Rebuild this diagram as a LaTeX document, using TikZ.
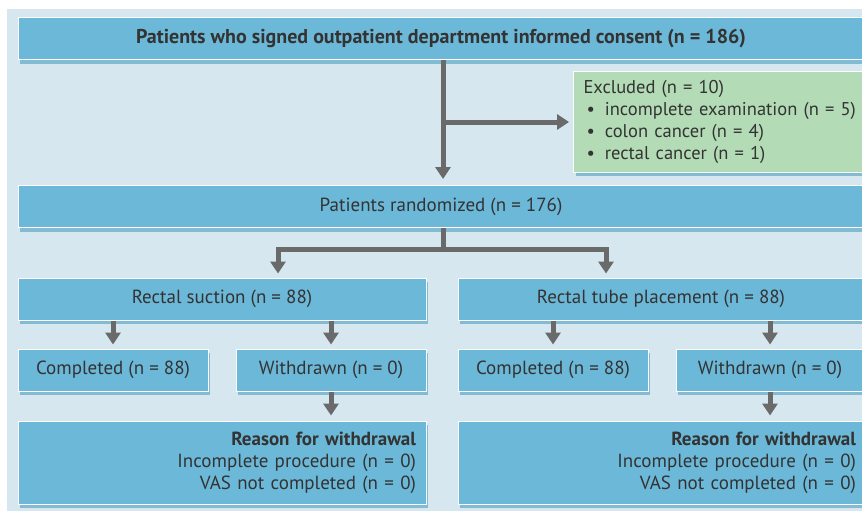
\documentclass[tikz,border=0pt]{standalone}
\usepackage{fontspec}
\setmainfont{PT Sans}
\usetikzlibrary{arrows.meta,shadows}

\definecolor{panelbg}{HTML}{D6E7F0}
\definecolor{boxblue}{HTML}{6CB8D8}
\definecolor{boxgreen}{HTML}{B3DBB5}
\definecolor{shadowblue}{HTML}{4C9CC2}
\definecolor{arrowgray}{HTML}{6A6A6A}
\definecolor{textgray}{HTML}{333333}

\tikzset{
  stage/.style={fill=boxblue, draw=white, line width=1pt, text=textgray,
    inner sep=0pt, minimum height=42pt,
    drop shadow={shadow xshift=2pt, shadow yshift=-4pt, fill=shadowblue, opacity=.6}},
  exclbox/.style={stage, fill=boxgreen, minimum width=300pt, minimum height=100pt,
    text width=280pt, align=left, anchor=west, font=\fontsize{18.5}{22}\selectfont},
  reasonbox/.style={stage, minimum height=83pt, align=right},
  flow/.style={draw=arrowgray, line width=5pt, -{Triangle[width=15pt,length=12pt]}},
  stem/.style={draw=arrowgray, line width=5pt}
}

\begin{document}
\begin{tikzpicture}[x=1pt, y=-1pt, font=\fontsize{19}{22}\selectfont]
	  \useasboundingbox (0,0) rectangle (862,511);
	  \clip (0,0) rectangle (862,511);
	  \fill [ panelbg ] (7,9) rectangle (872,515);

	  % screening
	  \node [ stage, minimum width=846pt, font=\fontsize{20}{22}\selectfont\bfseries ] (consent) at (441,39)
	    {Patients who signed outpatient department informed consent (n = 186)};
	  \node [ exclbox ] (excl) at (573,122)
	    {Excluded (n = 10)\\
	     \hspace*{3pt}\textbullet\hspace{10pt}incomplete examination (n = 5)\\
	     \hspace*{3pt}\textbullet\hspace{10pt}colon cancer (n = 4)\\
	     \hspace*{3pt}\textbullet\hspace{10pt}rectal cancer (n = 1)};
	  \node [ stage, minimum width=846pt ] (rand) at (441,206.5) {Patients randomized (n = 176)};

	  % arms
	  \node [ stage, minimum width=408pt ] (suction) at (222,299) {Rectal suction (n = 88)};
	  \node [ stage, minimum width=406pt ] (tube) at (661,299) {Rectal tube placement (n = 88)};

	  \node [ stage, minimum width=190pt ] (done1) at (113,370) {Completed (n = 88)};
	  \node [ stage, minimum width=190pt ] (wd1) at (331,370) {Withdrawn (n = 0)};
	  \node [ stage, minimum width=190pt ] (done2) at (553,370) {Completed (n = 88)};
	  \node [ stage, minimum width=188pt ] (wd2) at (770,370) {Withdrawn (n = 0)};

	  \node [ reasonbox, minimum width=408pt, text width=388pt ] (why1) at (222,462.5)
	    {\textbf{Reason for withdrawal}\\ Incomplete procedure (n = 0)\\ VAS not completed (n = 0)};
	  \node [ reasonbox, minimum width=406pt, text width=390pt ] (why2) at (661,462.5)
	    {\textbf{Reason for withdrawal}\\ Incomplete procedure (n = 0)\\ VAS not completed (n = 0)};

	  % connectors
	  \draw [ flow, shorten >=6pt ] ([xshift=2pt]consent.south) -- ([xshift=2pt]consent.south |- rand.north);
	  \draw [ flow, shorten >=4pt ] ([xshift=2pt]consent.south |- excl.west) -- (excl.west);

	  \draw [ stem ] ([xshift=2pt]rand.south) -- ++(0,21) coordinate (fork);
	  \draw [ flow, {Triangle[width=15pt,length=12pt]}-{Triangle[width=15pt,length=12pt]},
	          shorten <=4pt, shorten >=4pt ]
	    ([xshift=56pt]suction.north) |- (fork) -| ([xshift=-55pt]tube.north);

	  \draw [ flow, shorten >=4pt ] (suction.south -| done1.north) -- (done1.north);
	  \draw [ flow, shorten >=4pt ] (suction.south -| wd1.north) -- (wd1.north);
	  \draw [ flow, shorten >=4pt ] (tube.south -| done2.north) -- (done2.north);
	  \draw [ flow, shorten >=4pt ] (tube.south -| wd2.north) -- (wd2.north);

	  \draw [ flow, shorten >=5pt ] (wd1.south) -- (wd1.south |- why1.north);
	  \draw [ flow, shorten >=5pt ] (wd2.south) -- (wd2.south |- why2.north);
\end{tikzpicture}
\end{document}
